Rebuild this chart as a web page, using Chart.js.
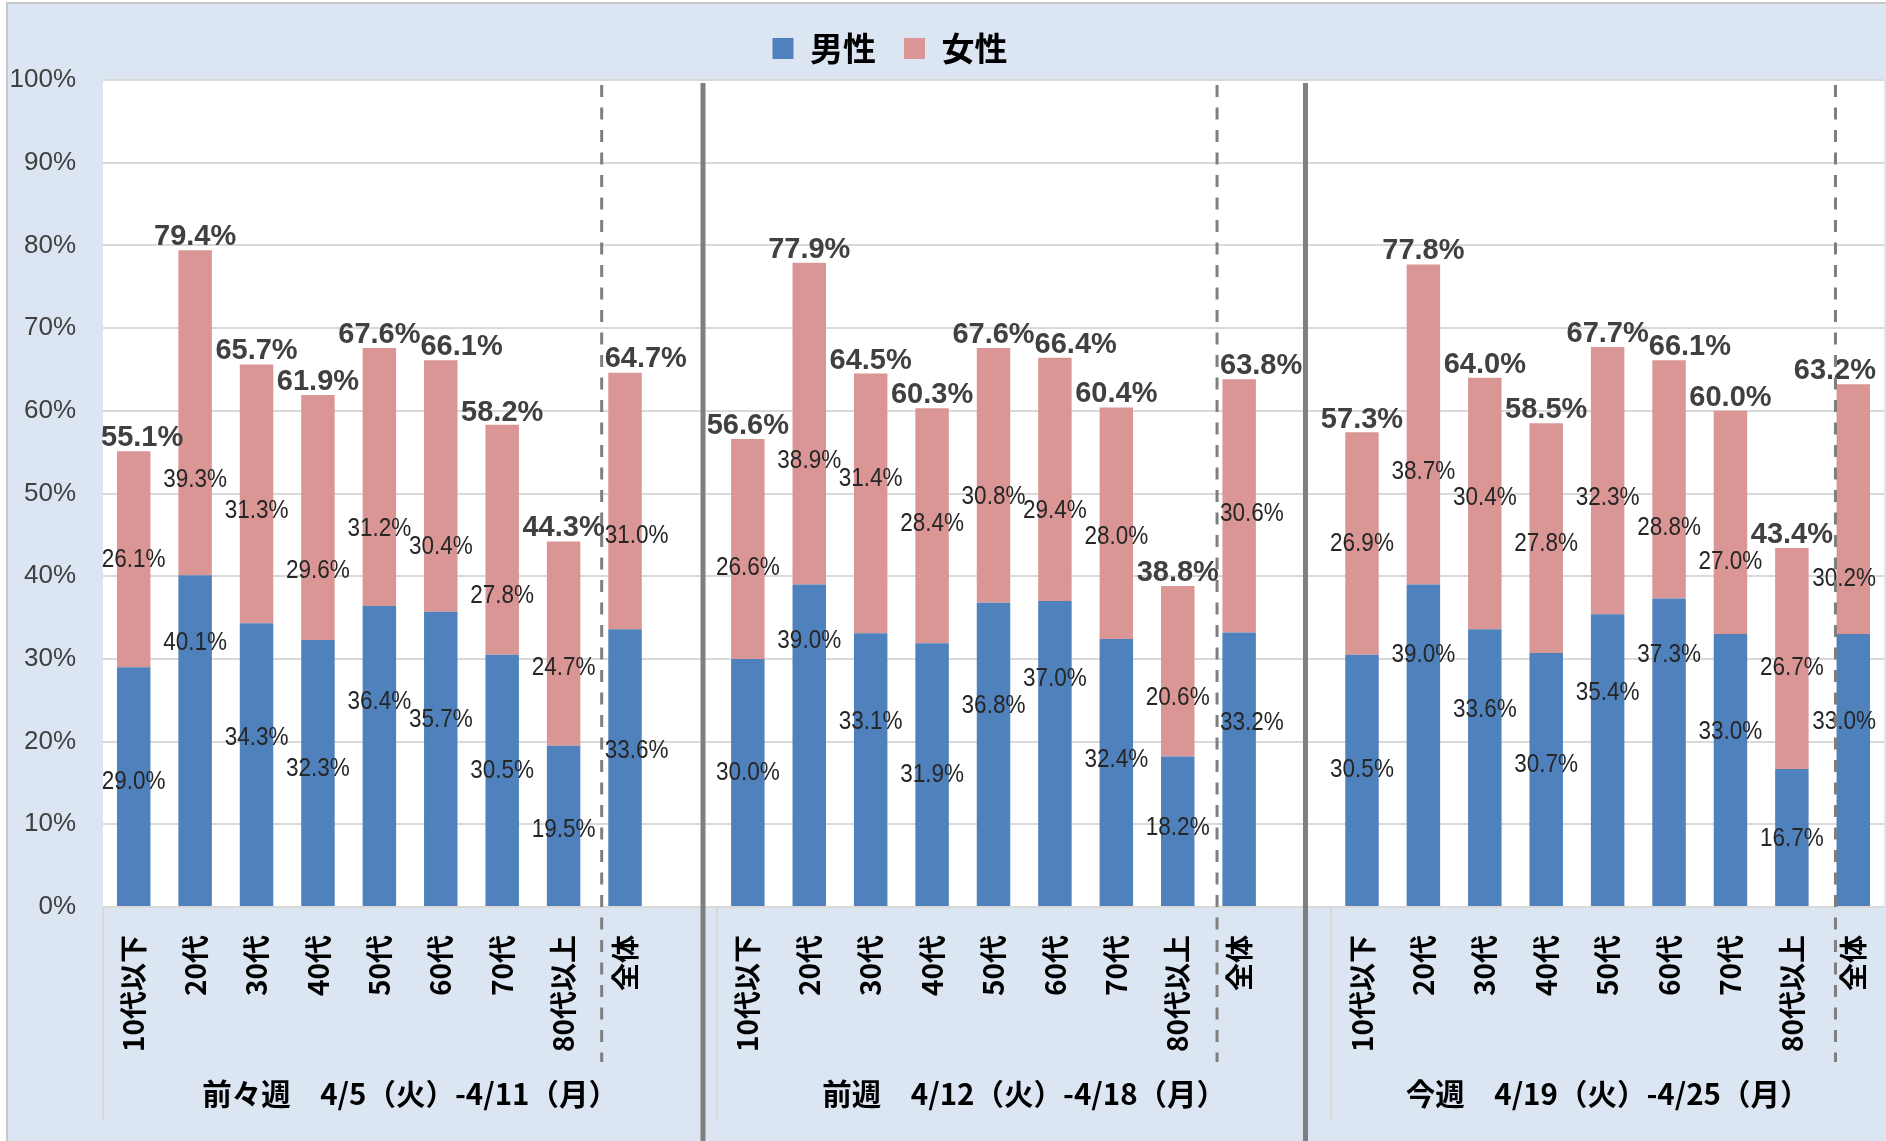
<!DOCTYPE html>
<html>
<head>
<meta charset="utf-8">
<script src="https://cdn.jsdelivr.net/npm/chart.js@4.4.1/dist/chart.umd.min.js"></script>
<style>
html,body{margin:0;padding:0;background:#fff;}
canvas{display:block;}
</style>
</head>
<body>
<canvas id="c" width="1886" height="1141"></canvas>
<script>
// ---------- data ----------
const ageGroups = ['10代以下','20代','30代','40代','50代','60代','70代','80代以上','全体'];
const weekLabels = ['前々週　4/5（火）-4/11（月）','前週　4/12（火）-4/18（月）','今週　4/19（火）-4/25（月）'];
const seriesNames = ['男性','女性'];

const maleWeek1   = [29.0, 40.1, 34.3, 32.3, 36.4, 35.7, 30.5, 19.5, 33.6];
const femaleWeek1 = [26.1, 39.3, 31.3, 29.6, 31.2, 30.4, 27.8, 24.7, 31.0];
const totalWeek1  = [55.1, 79.4, 65.7, 61.9, 67.6, 66.1, 58.2, 44.3, 64.7];

const maleWeek2   = [30.0, 39.0, 33.1, 31.9, 36.8, 37.0, 32.4, 18.2, 33.2];
const femaleWeek2 = [26.6, 38.9, 31.4, 28.4, 30.8, 29.4, 28.0, 20.6, 30.6];
const totalWeek2  = [56.6, 77.9, 64.5, 60.3, 67.6, 66.4, 60.4, 38.8, 63.8];

const maleWeek3   = [30.5, 39.0, 33.6, 30.7, 35.4, 37.3, 33.0, 16.7, 33.0];
const femaleWeek3 = [26.9, 38.7, 30.4, 27.8, 32.3, 28.8, 27.0, 26.7, 30.2];
const totalWeek3  = [57.3, 77.8, 64.0, 58.5, 67.7, 66.1, 60.0, 43.4, 63.2];

const yTicks = [0, 10, 20, 30, 40, 50, 60, 70, 80, 90, 100];
const yTickLabels = ['0%','10%','20%','30%','40%','50%','60%','70%','80%','90%','100%'];

// ---------- label placement (value units, as manually placed in the original) ----------
const maleLabelAt = [
  [15.1, 31.9, 20.4, 16.7, 24.8, 22.6, 16.4, 9.3, 18.9],
  [16.2, 32.1, 22.3, 15.9, 24.3, 27.5, 17.8, 9.5, 22.2],
  [16.5, 30.5, 23.8, 17.1, 25.9, 30.5, 21.1, 8.2, 22.3]
];
const femaleLabelAt = [
  [42.0, 51.6, 47.9, 40.6, 45.7, 43.5, 37.6, 28.9, 44.8],
  [41.0, 53.9, 51.7, 46.3, 49.6, 47.9, 44.7, 25.3, 47.5],
  [43.9, 52.6, 49.5, 43.9, 49.4, 45.8, 41.7, 28.9, 39.6]
];
// divider lines, in category-axis units
const weekDividerAt = [9.27, 19.08];
const totalDividerAt = [7.62, 17.64, 27.71];
const weekSpanAt = [[-0.5, 9.5], [9.5, 19.5], [19.5, 28.5]];

// ---------- build chart tables ----------
const maleWeeks = [maleWeek1, maleWeek2, maleWeek3];
const femaleWeeks = [femaleWeek1, femaleWeek2, femaleWeek3];
const totalWeeks = [totalWeek1, totalWeek2, totalWeek3];
const slotsPerWeek = ageGroups.length + 1;

function spread(arrs) {
  const out = [];
  arrs.forEach((a, g) => { out.push(...a); if (g < arrs.length - 1) out.push(null); });
  return out;
}
const categories = spread(weekLabels.map(() => ageGroups)).map(v => v === null ? '' : v);

const COLORS = { male: '#4F81BD', female: '#DA9694', bg: '#DCE6F2', grid: '#D9D9D9', divider: '#7F7F7F' };
const LATIN = '"Liberation Sans", Arial, sans-serif';
const CJK = '"Noto Sans CJK JP", "Noto Sans", sans-serif';

const decorPlugin = {
  id: 'decor',
  afterLayout(chart) {
    const L = chart.legend;
    if (L) { L.left -= 52; L.right -= 52; L.top -= 5; L.bottom -= 5; }
  },
  beforeDraw(chart) {
    const { ctx, chartArea: a, width, height } = chart;
    ctx.save();
    ctx.fillStyle = '#fff';
    ctx.fillRect(0, 0, width, height);
    ctx.fillStyle = COLORS.bg;
    ctx.fillRect(8, 4, width - 8, height - 4);
    ctx.strokeStyle = '#C8C8C8';
    ctx.lineWidth = 2;
    ctx.beginPath();
    ctx.moveTo(7, height); ctx.lineTo(7, 3); ctx.lineTo(width, 3);
    ctx.stroke();
    ctx.fillStyle = '#fff';
    ctx.fillRect(a.left, a.top, a.right - a.left, a.bottom - a.top);
    ctx.restore();
  },
  afterDatasetsDraw(chart) {
    const { ctx, chartArea: a, scales: { x, y } } = chart;
    const maleEls = chart.getDatasetMeta(0).data;
    ctx.save();

    // group dividers in category band
    ctx.strokeStyle = COLORS.grid;
    ctx.lineWidth = 2;
    weekSpanAt.forEach(([s]) => {
      const px = Math.round(x.getPixelForValue(s));
      ctx.beginPath(); ctx.moveTo(px, a.bottom); ctx.lineTo(px, 1121); ctx.stroke();
    });

    function drawLabel(text, cx, cy, opt) {
      ctx.font = (opt.bold ? 'bold ' : '') + opt.size + 'px ' + LATIN;
      const w = ctx.measureText(text).width * opt.sx;
      let left = cx - w / 2;
      if (opt.dashX !== undefined && left < opt.dashX + 3) left = opt.dashX + 3;
      if (opt.prev && Math.abs(cy - opt.prev.y) < 24 && left < opt.prev.right) left = opt.prev.right;
      left = Math.max(left, a.left - 2);
      left = Math.min(left, a.right - 8 - w);
      ctx.save();
      ctx.translate(left, cy);
      ctx.scale(opt.sx, 1);
      ctx.fillStyle = opt.color;
      ctx.textAlign = 'left';
      ctx.textBaseline = opt.baseline;
      ctx.fillText(text, 0, 0);
      ctx.restore();
      return { left, right: left + w, y: cy };
    }

    weekLabels.forEach((_, g) => {
      const dashX = x.getPixelForValue(totalDividerAt[g]);
      let prevTotal = null;
      ageGroups.forEach((__, c) => {
        const i = g * slotsPerWeek + c;
        const cx = maleEls[i].x;
        const isAll = c === ageGroups.length - 1;
        const segOpt = { size: 25, sx: 0.9, bold: false, color: '#262626', baseline: 'middle', dashX: isAll ? dashX : undefined };
        drawLabel(maleWeeks[g][c].toFixed(1) + '%', cx, y.getPixelForValue(maleLabelAt[g][c]), segOpt);
        drawLabel(femaleWeeks[g][c].toFixed(1) + '%', cx, y.getPixelForValue(femaleLabelAt[g][c]), segOpt);
        prevTotal = drawLabel(totalWeeks[g][c].toFixed(1) + '%', cx, y.getPixelForValue(totalWeeks[g][c]) - 5,
          { size: 29, sx: 1, bold: true, color: '#404040', baseline: 'alphabetic', dashX: isAll ? dashX : undefined, prev: prevTotal });
      });
    });

    // dashed dividers before 全体
    ctx.strokeStyle = COLORS.divider;
    ctx.lineWidth = 3;
    ctx.setLineDash([12, 10.5]);
    totalDividerAt.forEach(v => {
      const px = x.getPixelForValue(v);
      ctx.beginPath(); ctx.moveTo(px, 85); ctx.lineTo(px, 1062); ctx.stroke();
    });
    ctx.setLineDash([]);

    // solid week separators
    ctx.lineWidth = 5;
    weekDividerAt.forEach(v => {
      const px = x.getPixelForValue(v);
      ctx.beginPath(); ctx.moveTo(px, 83); ctx.lineTo(px, chart.height); ctx.stroke();
    });

    // week labels
    ctx.fillStyle = '#000';
    ctx.font = 'bold 29.5px ' + CJK;
    ctx.textAlign = 'center';
    ctx.textBaseline = 'middle';
    weekLabels.forEach((t, g) => {
      const [s, e] = weekSpanAt[g];
      const cx = (x.getPixelForValue(s) + x.getPixelForValue(e)) / 2;
      ctx.fillText(t, cx, 1094);
    });
    ctx.restore();
  }
};

new Chart(document.getElementById('c'), {
  type: 'bar',
  data: {
    labels: categories,
    datasets: [
      { label: seriesNames[0], data: spread(maleWeeks), backgroundColor: COLORS.male, borderWidth: 0 },
      { label: seriesNames[1], data: spread(femaleWeeks), backgroundColor: COLORS.female, borderWidth: 0 }
    ]
  },
  options: {
    responsive: false,
    animation: false,
    devicePixelRatio: 1,
    barPercentage: 0.545,
    categoryPercentage: 1,
    layout: { padding: { top: 9, left: 0, right: 2, bottom: 0 } },
    plugins: {
      tooltip: { enabled: false },
      legend: {
        position: 'top',
        labels: {
          boxWidth: 21, boxHeight: 21, padding: 28, color: '#000',
          font: { family: CJK, size: 33, weight: 'bold' }
        }
      }
    },
    scales: {
      x: {
        stacked: true,
        grid: { display: false },
        border: { display: false },
        ticks: {
          autoSkip: false, minRotation: 90, maxRotation: 90, padding: 20, color: '#000',
          font: { family: CJK, size: 28, weight: 'bold' }
        },
        afterFit(s) { s.height = 234; s.paddingLeft = 0; s.paddingRight = 0; }
      },
      y: {
        stacked: true,
        min: 0, max: 100,
        border: { display: false },
        grid: { color: COLORS.grid, lineWidth: 2, drawTicks: false },
        ticks: {
          stepSize: 10, padding: 27, color: '#404040',
          font: { family: LATIN, size: 26 },
          callback: v => yTickLabels[yTicks.indexOf(v)]
        },
        afterFit(s) { s.width = 103; }
      }
    }
  },
  plugins: [decorPlugin]
});
</script>
</body>
</html>
